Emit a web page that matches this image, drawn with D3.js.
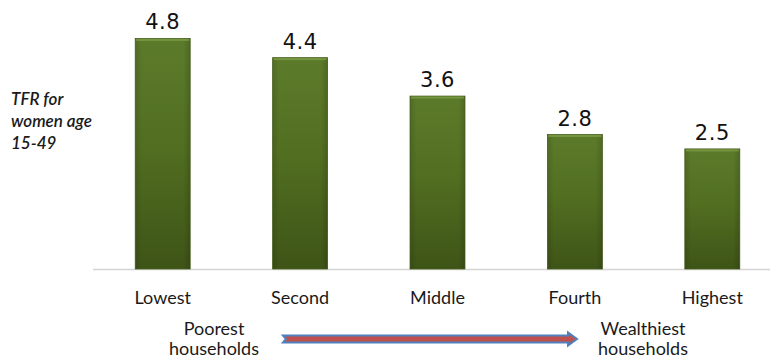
<!DOCTYPE html>
<html>
<head>
<meta charset="utf-8">
<script src="https://cdn.jsdelivr.net/npm/d3@7"></script>
<style>
  html, body { margin: 0; padding: 0; background: #fff; }
  svg { display: block; }
</style>
</head>
<body>
<svg id="chart" width="770" height="358"></svg>
<script>
// Total fertility rate by household wealth quintile
const categories = ["Lowest", "Second", "Middle", "Fourth", "Highest"];
const tfrValues = [4.8, 4.4, 3.6, 2.8, 2.5];
const yAxisLabel = ["TFR for", "women age", "15-49"];
const wealthEnds = [["Poorest", "households"], ["Wealthiest", "households"]];

const svg = d3.select("#chart");
const W = 770, H = 358;
const baseY = 269;

const x = d3.scaleBand()
  .domain(categories)
  .range([94, 781])
  .paddingInner(0.6)
  .paddingOuter(0.3);

const y = d3.scaleLinear()
  .domain([0, 5.6])
  .range([baseY, 0]);

// bar fill gradient
const defs = svg.append("defs");
const grad = defs.append("linearGradient")
  .attr("id", "barGrad").attr("x1", 0).attr("y1", 0).attr("x2", 0).attr("y2", 1);
grad.append("stop").attr("offset", "0%").attr("stop-color", "#5c7b2a");
grad.append("stop").attr("offset", "45%").attr("stop-color", "#526f21");
grad.append("stop").attr("offset", "100%").attr("stop-color", "#3e5417");

const sideGrad = defs.append("linearGradient")
  .attr("id", "sideGrad").attr("x1", 0).attr("y1", 0).attr("x2", 1).attr("y2", 0);
sideGrad.append("stop").attr("offset", "0%").attr("stop-color", "#000").attr("stop-opacity", 0.12);
sideGrad.append("stop").attr("offset", "12%").attr("stop-color", "#000").attr("stop-opacity", 0);
sideGrad.append("stop").attr("offset", "88%").attr("stop-color", "#000").attr("stop-opacity", 0);
sideGrad.append("stop").attr("offset", "100%").attr("stop-color", "#000").attr("stop-opacity", 0.15);

// baseline
svg.append("line")
  .attr("x1", 93).attr("x2", W)
  .attr("y1", baseY + 0.5).attr("y2", baseY + 0.5)
  .attr("stroke", "#d4d4d4").attr("stroke-width", 1.5);

const data = categories.map((c, i) => ({ cat: c, v: tfrValues[i] }));

const bars = svg.append("g").selectAll("g").data(data).join("g");

bars.append("rect")
  .attr("x", d => x(d.cat))
  .attr("y", d => y(d.v))
  .attr("width", x.bandwidth())
  .attr("height", d => baseY - y(d.v))
  .attr("fill", "url(#barGrad)")
  .attr("stroke", "#4a6120")
  .attr("stroke-width", 0.8);

bars.append("rect")
  .attr("x", d => x(d.cat))
  .attr("y", d => y(d.v))
  .attr("width", x.bandwidth())
  .attr("height", d => baseY - y(d.v))
  .attr("fill", "url(#sideGrad)");

// top highlight
bars.append("rect")
  .attr("x", d => x(d.cat) + 1)
  .attr("y", d => y(d.v) + 0.5)
  .attr("width", x.bandwidth() - 2)
  .attr("height", 2)
  .attr("fill", "#7d9c45")
  .attr("opacity", 0.8);

// value labels
bars.append("text")
  .attr("x", d => x(d.cat) + x.bandwidth() / 2)
  .attr("y", d => y(d.v) - 9)
  .attr("text-anchor", "middle")
  .attr("font-family", "DejaVu Sans, Verdana, sans-serif")
  .attr("font-size", 21)
  .attr("letter-spacing", 0.5)
  .attr("fill", "#111")
  .text(d => d.v.toFixed(1));

// category axis
const xAxis = svg.append("g")
  .attr("transform", `translate(0,${baseY})`)
  .call(d3.axisBottom(x).tickSize(0).tickPadding(22));
xAxis.select(".domain").remove();
xAxis.selectAll("text")
  .attr("font-family", "Lato, 'Open Sans', sans-serif")
  .attr("font-size", 18)
  .attr("fill", "#1a1a1a");

// y-axis title
const yt = svg.append("text")
  .attr("font-family", "Lato, 'Open Sans', sans-serif")
  .attr("font-style", "italic")
  .attr("font-weight", 600)
  .attr("font-size", 17)
  .attr("fill", "#1a1a1a");
yAxisLabel.forEach((line, i) => {
  yt.append("tspan").attr("x", 11).attr("y", 105 + i * 22).text(line);
});

// wealth gradient annotation
const ends = [214, 643];
wealthEnds.forEach((lines, i) => {
  const t = svg.append("text")
    .attr("text-anchor", "middle")
    .attr("font-family", "Lato, 'Open Sans', sans-serif")
    .attr("font-size", 18)
    .attr("fill", "#1a1a1a");
  lines.forEach((line, j) => {
    t.append("tspan").attr("x", ends[i]).attr("y", 335 + j * 20).text(line);
  });
});

// arrow from poorest to wealthiest
const ax0 = 283, ax1 = 577, ay = 339;
const arrow = d3.path();
arrow.moveTo(ax0, ay - 3.5);
arrow.lineTo(ax1 - 9, ay - 3.5);
arrow.lineTo(ax1 - 9, ay - 6.5);
arrow.lineTo(ax1, ay);
arrow.lineTo(ax1 - 9, ay + 6.5);
arrow.lineTo(ax1 - 9, ay + 3.5);
arrow.lineTo(ax0, ay + 3.5);
arrow.lineTo(ax0 + 3, ay);
arrow.closePath();
svg.append("path")
  .attr("d", arrow.toString())
  .attr("fill", "#c0504d")
  .attr("stroke", "#4f81bd")
  .attr("stroke-width", 2)
  .attr("stroke-linejoin", "miter");
</script>
</body>
</html>
